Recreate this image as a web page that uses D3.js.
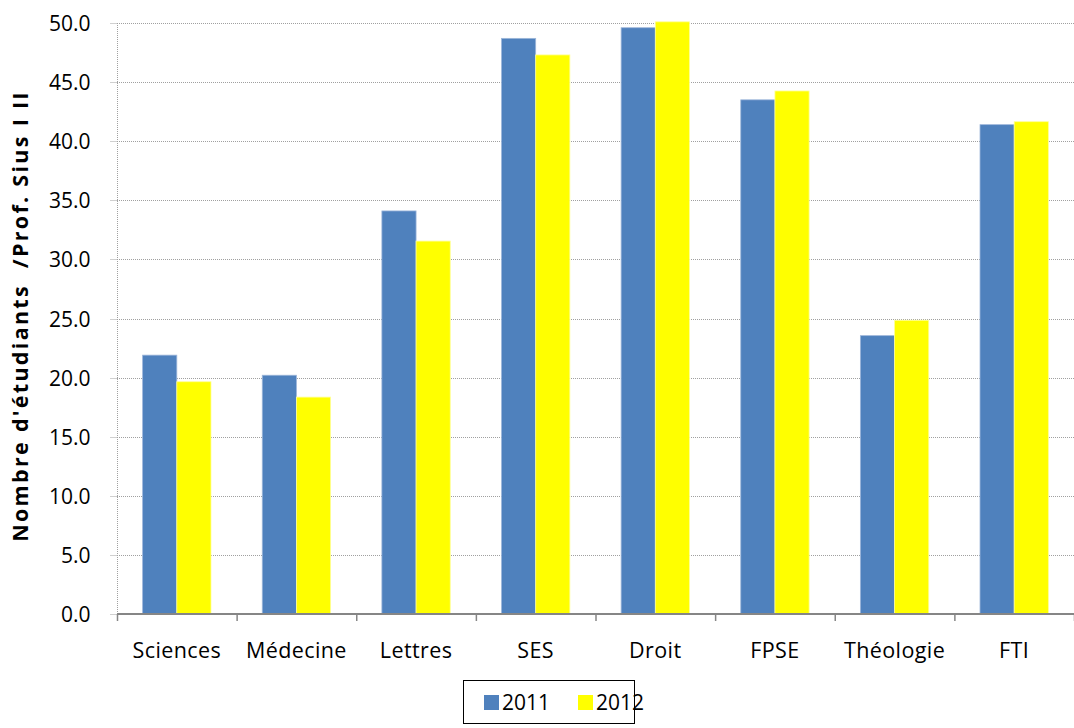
<!DOCTYPE html>
<html>
<head>
<meta charset="utf-8">
<script src="https://cdn.jsdelivr.net/npm/d3@7"></script>
<style>
  html, body { margin: 0; padding: 0; background: #fff; }
  svg { display: block; }
  text { font-family: "Open Sans", Lato, "Liberation Sans", sans-serif; fill: #000; }
</style>
</head>
<body>
<svg id="chart" width="1074" height="728"></svg>
<script>
// Faculties and student / professor ratios per year
const categories = ["Sciences", "Médecine", "Lettres", "SES", "Droit", "FPSE", "Théologie", "FTI"];
const values2011 = [21.9, 20.2, 34.1, 48.7, 49.6, 43.5, 23.55, 41.4];
const values2012 = [19.65, 18.35, 31.55, 47.3, 50.1, 44.25, 24.85, 41.65];
const seriesNames = ["2011", "2012"];
const seriesColors = ["#4F81BD", "#FFFF00"];
const yTicks = [0, 5, 10, 15, 20, 25, 30, 35, 40, 45, 50];
const yTitle = "Nombre d'étudiants  /Prof. Sius I II";

const svg = d3.select("#chart");
const plot = { left: 117, right: 1074, top: 23, bottom: 614 };

const x = d3.scaleBand().domain(categories).range([plot.left, plot.right]).paddingInner(0).paddingOuter(0);
const barW = x.bandwidth() / 3.5;            // two bars plus a 150% gap
const xs = d3.scaleBand().domain(seriesNames).range([0, barW * 2]);
const y = d3.scaleLinear().domain([0, 50]).range([plot.bottom, plot.top]);

// dotted horizontal gridlines
svg.append("g").selectAll("line").data(yTicks.filter(d => d > 0)).join("line")
  .attr("x1", plot.left).attr("x2", plot.right)
  .attr("y1", d => Math.round(y(d)) + 0.5).attr("y2", d => Math.round(y(d)) + 0.5)
  .attr("stroke", "#A0A0A0").attr("stroke-width", 1).attr("stroke-dasharray", "1,1");

// y axis: dotted spine, dotted ticks, labels
const yAxis = d3.axisLeft(y).tickValues(yTicks).tickFormat(d3.format(".1f")).tickSize(8).tickPadding(19);
const gy = svg.append("g").attr("transform", `translate(${plot.left + 0.5},0)`).call(yAxis);
gy.select(".domain").attr("stroke", "#A0A0A0").attr("stroke-dasharray", "1,1").attr("d", `M0,${plot.top}V${plot.bottom}`);
gy.selectAll(".tick line").attr("stroke", "#A0A0A0").attr("stroke-dasharray", "1,1");
gy.selectAll(".tick").attr("transform", d => `translate(0,${Math.round(y(d)) + 0.5})`);
gy.selectAll(".tick text").style("font-size", "21px").attr("fill", "#000").attr("dy", "0.35em");

// bars
const groups = svg.append("g").selectAll("g").data(categories).join("g")
  .attr("transform", d => `translate(${x(d) + (x.bandwidth() - barW * 2) / 2},0)`);
groups.selectAll("rect").data((d, i) => [
    { s: seriesNames[0], v: values2011[i], c: seriesColors[0], e: "#9DB6DA" },
    { s: seriesNames[1], v: values2012[i], c: seriesColors[1], e: "#FFFF99" }
  ]).join("rect")
  .attr("x", d => xs(d.s))
  .attr("y", d => y(d.v))
  .attr("width", xs.bandwidth())
  .attr("height", d => y(0) - y(d.v))
  .attr("fill", d => d.c)
  .attr("stroke", d => d.e).attr("stroke-width", 0.8);

// x axis: solid baseline with ticks at category boundaries
const gx = svg.append("g").attr("transform", `translate(0,${plot.bottom})`);
gx.append("line").attr("x1", plot.left).attr("x2", plot.right).attr("y1", 0).attr("y2", 0)
  .attr("stroke", "#868686").attr("stroke-width", 2);
gx.selectAll("line.tk").data(categories.concat(["end"])).join("line").attr("class", "tk")
  .attr("x1", (d, i) => plot.left + i * x.bandwidth() + 0.5)
  .attr("x2", (d, i) => plot.left + i * x.bandwidth() + 0.5)
  .attr("y1", 0).attr("y2", 7).attr("stroke", "#868686").attr("stroke-width", 1.5);
gx.selectAll("text").data(categories).join("text")
  .attr("x", d => x(d) + x.bandwidth() / 2).attr("y", 44)
  .attr("text-anchor", "middle").style("font-size", "21.5px").style("letter-spacing", "0.4px").text(d => d);

// y axis title
svg.append("text")
  .attr("transform", `translate(28,316) rotate(-90)`)
  .attr("text-anchor", "middle").style("font-size", "21.5px").style("font-weight", "bold")
  .style("letter-spacing", "2.3px")
  .attr("xml:space", "preserve").text(yTitle);

// legend
const lg = svg.append("g").attr("transform", "translate(463,680)");
lg.append("rect").attr("x", 0.5).attr("y", 0.5).attr("width", 171).attr("height", 43)
  .attr("fill", "#fff").attr("stroke", "#000").attr("stroke-width", 1);
const items = lg.selectAll("g").data(seriesNames).join("g")
  .attr("transform", (d, i) => `translate(${21 + i * 94},0)`);
items.append("rect").attr("x", 0).attr("y", 15).attr("width", 15).attr("height", 15)
  .attr("fill", (d, i) => seriesColors[i]);
items.append("text").attr("x", 18).attr("y", 30).style("font-size", "21px").text(d => d);
</script>
</body>
</html>
